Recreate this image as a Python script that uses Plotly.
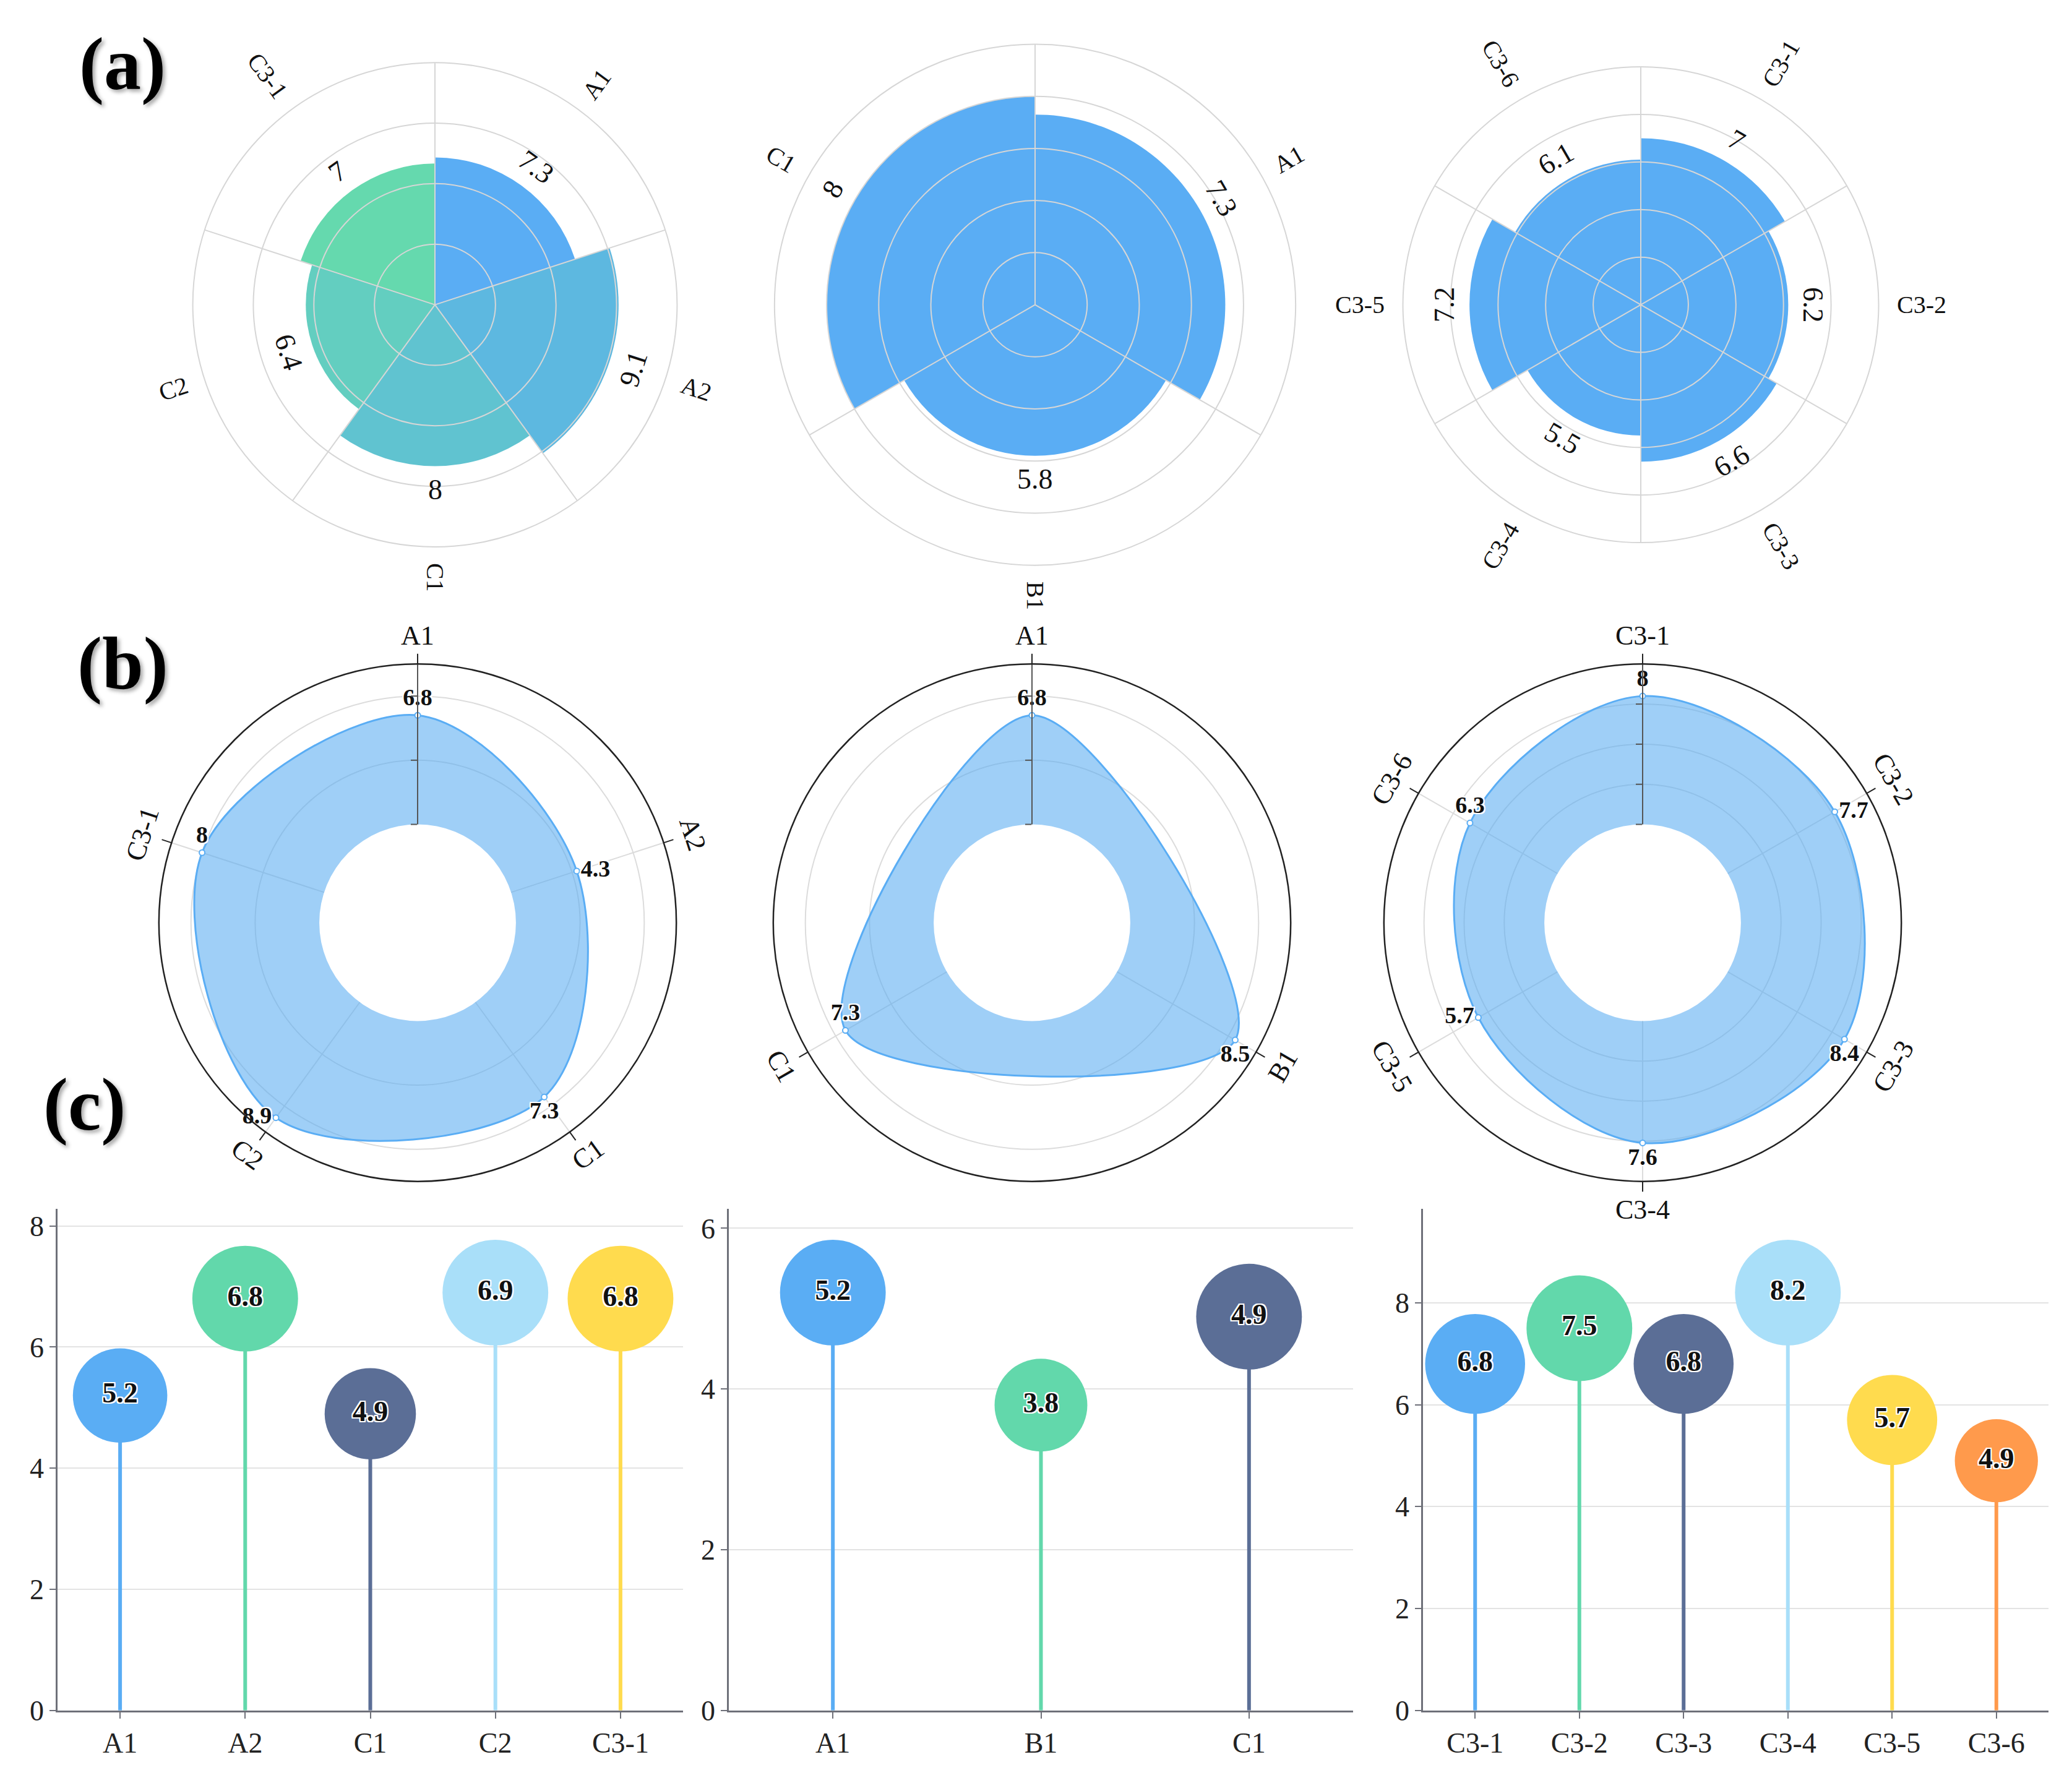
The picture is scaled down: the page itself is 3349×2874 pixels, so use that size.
import math
import plotly.graph_objects as go

W, H = 3349, 2874
FONT = "Liberation Serif, Times New Roman, DejaVu Serif, serif"

# ---------------- data ----------------
a1_cats = ["A1", "A2", "C1", "C2", "C3-1"]
a1_vals = [7.3, 9.1, 8, 6.4, 7]
a2_cats = ["A1", "B1", "C1"]
a2_vals = [7.3, 5.8, 8]
a3_cats = ["C3-1", "C3-2", "C3-3", "C3-4", "C3-5", "C3-6"]
a3_vals = [7, 6.2, 6.6, 5.5, 7.2, 6.1]

b1_cats = ["A1", "A2", "C1", "C2", "C3-1"]
b1_vals = [6.8, 4.3, 7.3, 8.9, 8]
b2_cats = ["A1", "B1", "C1"]
b2_vals = [6.8, 8.5, 7.3]
b3_cats = ["C3-1", "C3-2", "C3-3", "C3-4", "C3-5", "C3-6"]
b3_vals = [8, 7.7, 8.4, 7.6, 5.7, 6.3]

c1_cats = ["A1", "A2", "C1", "C2", "C3-1"]
c1_vals = [5.2, 6.8, 4.9, 6.9, 6.8]
c2_cats = ["A1", "B1", "C1"]
c2_vals = [5.2, 3.8, 4.9]
c3_cats = ["C3-1", "C3-2", "C3-3", "C3-4", "C3-5", "C3-6"]
c3_vals = [6.8, 7.5, 6.8, 8.2, 5.7, 4.9]

# ---------------- styles ----------------
BLUE = "#5AADF4"
a1_colors = ["#5AADF4", "#5DB8E0", "#60C3D0", "#63CEC0", "#65D9AE"]
lolli_colors = ["#5AADF4", "#62D8AB", "#5B6E96", "#A9DFF9", "#FFDB4E", "#FF9A4C"]
GRID_A = "#D6D6D6"
GRID_B = "#DCDCDC"
AXC = "#6E7079"
HALO = ("2px 2px 0 #fff, -2px -2px 0 #fff, 2px -2px 0 #fff, -2px 2px 0 #fff, "
        "0 2px 0 #fff, 2px 0 0 #fff, 0 -2px 0 #fff, -2px 0 0 #fff")

fig = go.Figure()
annotations = []
layout = {}


def fmt(v):
    return f"{v:g}"


def norm_angle(a):
    a = a % 360
    if a > 180:
        a -= 360
    if a > 90:
        a -= 180
    elif a < -90:
        a += 180
    return a


def to_paper(cx, cy, r, th):
    t = math.radians(th)
    px = cx + r * math.sin(t)
    py = cy - r * math.cos(t)
    return px / W, 1 - py / H


def text_w(s, fs):
    w = 0.0
    for ch in s:
        if ch.isupper():
            w += 0.67
        elif ch.isdigit():
            w += 0.5
        elif ch == "-":
            w += 0.33
        elif ch == ".":
            w += 0.25
        else:
            w += 0.5
    return w * fs


def polar_domain(cx, cy, R):
    return dict(x=[(cx - R) / W, (cx + R) / W], y=[1 - (cy + R) / H, 1 - (cy - R) / H])


def add_ann(x, y, text, size, angle=0, bold=False):
    annotations.append(dict(
        x=x, y=y, xref="paper", yref="paper", showarrow=False,
        text=f"<b>{text}</b>" if bold else text, textangle=angle,
        xanchor="center", yanchor="middle",
        font=dict(family=FONT, size=size, color="#111")))


def dummy(subplot):
    return go.Scatterpolar(r=[0], theta=[0], mode="markers", marker=dict(size=1, opacity=0),
                           subplot=subplot, hoverinfo="skip", showlegend=False)


# ---------------- row (a): polar bars ----------------
rowa = [
    dict(cats=a1_cats, vals=a1_vals, colors=a1_colors, rmax=12, grid=[3, 6, 9],
         cx=695, cy=489, R=395, base="polar", gid="polar2"),
    dict(cats=a2_cats, vals=a2_vals, colors=[BLUE] * len(a2_vals), rmax=10, grid=[2, 4, 6, 8],
         cx=1665, cy=489, R=425, base="polar3", gid="polar4"),
    dict(cats=a3_cats, vals=a3_vals, colors=[BLUE] * len(a3_vals), rmax=10, grid=[2, 4, 6, 8],
         cx=2644, cy=489, R=388, base="polar5", gid="polar6"),
]
FS_AV = 46
FS_AC = 40
for p in rowa:
    n = len(p["cats"])
    step = 360 / n
    th = [(i + 0.5) * step for i in range(n)]
    fig.add_trace(go.Barpolar(r=p["vals"], theta=th, width=[step] * n,
                              marker=dict(color=p["colors"], line=dict(width=0)),
                              subplot=p["base"], hoverinfo="skip", showlegend=False))
    fig.add_trace(dummy(p["gid"]))
    dom = polar_domain(p["cx"], p["cy"], p["R"])
    layout[p["base"]] = dict(
        domain=dom, bgcolor="rgba(0,0,0,0)", bargap=0,
        angularaxis=dict(type="linear", rotation=90, direction="clockwise", showgrid=False,
                         showline=False, showticklabels=False, ticks=""),
        radialaxis=dict(range=[0, p["rmax"]], showgrid=False, showline=False,
                        showticklabels=False, ticks=""))
    layout[p["gid"]] = dict(
        domain=dom, bgcolor="rgba(0,0,0,0)",
        angularaxis=dict(type="linear", rotation=90, direction="clockwise",
                         tickvals=[i * step for i in range(n)], showgrid=True,
                         gridcolor=GRID_A, gridwidth=2, showline=True, linecolor=GRID_A,
                         linewidth=2, showticklabels=False, ticks=""),
        radialaxis=dict(range=[0, p["rmax"]], tickvals=p["grid"], showgrid=True,
                        gridcolor=GRID_A, gridwidth=2, showline=False,
                        showticklabels=False, ticks=""))
    for c, v, t in zip(p["cats"], p["vals"], th):
        rv = v / p["rmax"] * p["R"] + 38
        x, y = to_paper(p["cx"], p["cy"], rv, t)
        add_ann(x, y, fmt(v), FS_AV, norm_angle(t))
        rc = p["R"] + 26 + text_w(c, FS_AC) / 2
        x, y = to_paper(p["cx"], p["cy"], rc, t)
        add_ann(x, y, c, FS_AC, norm_angle(t - 90))

# ---------------- row (b): smooth radar ----------------
rowb = [
    dict(cats=b1_cats, vals=b1_vals, ticks=[0, 4, 8], cx=667, cy=1497, pid="polar7",
         oid="polar10",
         pos=["top center", "middle right", "bottom center", "middle left", "top center"]),
    dict(cats=b2_cats, vals=b2_vals, ticks=[0, 4, 8], cx=1660, cy=1497, pid="polar8",
         oid="polar11", pos=["top center", "bottom center", "top center"]),
    dict(cats=b3_cats, vals=b3_vals, ticks=[0, 2.5, 5, 7.5], cx=2647, cy=1497, pid="polar9",
         oid="polar12",
         pos=["top center", "middle right", "bottom center", "bottom center", "middle left",
              "top center"]),
]
RB = 422
for p in rowb:
    n = len(p["cats"])
    step = 360 / n
    th = [i * step for i in range(n)]
    fig.add_trace(go.Scatterpolar(
        r=p["vals"] + [p["vals"][0]], theta=th + [th[0]], mode="lines", fill="toself",
        fillcolor="rgba(90,172,242,0.58)",
        line=dict(color=BLUE, width=3, shape="spline", smoothing=1),
        subplot=p["pid"], hoverinfo="skip", showlegend=False))
    fig.add_trace(go.Scatterpolar(
        r=p["vals"], theta=th, mode="markers+text", text=[fmt(v) for v in p["vals"]],
        textposition=p["pos"],
        textfont=dict(family=FONT, size=38, color="#111", weight="bold", shadow=HALO),
        marker=dict(size=9, color="white", line=dict(color=BLUE, width=2)),
        cliponaxis=False, subplot=p["pid"], hoverinfo="skip", showlegend=False))
    fig.add_trace(dummy(p["oid"]))
    dom = polar_domain(p["cx"], p["cy"], RB)
    layout[p["pid"]] = dict(
        domain=dom, hole=0.38, bgcolor="rgba(0,0,0,0)",
        angularaxis=dict(type="linear", rotation=90, direction="clockwise", tickvals=th,
                         showticklabels=False, ticks="outside", ticklen=16, tickwidth=2,
                         tickcolor="#222", showline=False,
                         showgrid=True, gridcolor=GRID_B, gridwidth=2),
        radialaxis=dict(range=[0, 10], angle=90, tickvals=p["ticks"], showticklabels=False,
                        ticks="inside", ticklen=10, tickwidth=2, tickcolor="#555",
                        showline=True, linecolor="#555", linewidth=2, showgrid=True,
                        gridcolor=GRID_B, gridwidth=2))
    layout[p["oid"]] = dict(
        domain=dom, bgcolor="rgba(0,0,0,0)",
        angularaxis=dict(type="linear", rotation=90, direction="clockwise",
                         showticklabels=False, ticks="", showline=True, linecolor="#222",
                         linewidth=2.5, showgrid=False),
        radialaxis=dict(range=[0, 10], visible=False, showgrid=False, showline=False,
                        showticklabels=False, ticks=""))
    for c, t in zip(p["cats"], th):
        x, y = to_paper(p["cx"], p["cy"], RB + 46, t)
        add_ann(x, y, c, 44, norm_angle(t))

# ---------------- row (c): lollipops ----------------
ydom = [1 - 2782 / H, 1 - 1964 / H]
rowc = [
    dict(cats=c1_cats, vals=c1_vals, x0=85, x1=1096, n=""),
    dict(cats=c2_cats, vals=c2_vals, x0=1170, x1=2179, n="2"),
    dict(cats=c3_cats, vals=c3_vals, x0=2292, x1=3303, n="3"),
]
for p in rowc:
    xa, ya = "x" + p["n"], "y" + p["n"]
    vmax = max(p["vals"])
    cols = lolli_colors[:len(p["cats"])]
    for c, v, col in zip(p["cats"], p["vals"], cols):
        fig.add_trace(go.Scatter(x=[c, c], y=[0, v], mode="lines",
                                 line=dict(color=col, width=6), xaxis=xa, yaxis=ya,
                                 hoverinfo="skip", showlegend=False))
    sizes = [min(80, 30 + 55 * v / vmax) * 2.136 for v in p["vals"]]
    fig.add_trace(go.Scatter(
        x=p["cats"], y=p["vals"], mode="markers+text", text=[fmt(v) for v in p["vals"]],
        textposition="middle center",
        textfont=dict(family=FONT, size=46, color="#111", weight="bold", shadow=HALO),
        marker=dict(size=sizes, color=cols, line=dict(width=0), opacity=1),
        xaxis=xa, yaxis=ya, cliponaxis=False, hoverinfo="skip", showlegend=False))
    layout["xaxis" + p["n"]] = dict(
        domain=[p["x0"] / W, p["x1"] / W], anchor=ya, type="category",
        range=[-0.5, len(p["cats"]) - 0.5], showline=True, linecolor=AXC, linewidth=2.5,
        ticks="outside", ticklen=10, tickwidth=2, tickcolor=AXC, showgrid=False,
        zeroline=False, tickfont=dict(family=FONT, size=46, color="#222"))
    layout["yaxis" + p["n"]] = dict(
        domain=ydom, anchor=xa, range=[0, vmax * 1.2], tick0=0, dtick=2, showline=True,
        linecolor=AXC, linewidth=2.5, ticks="outside", ticklen=10, tickwidth=2,
        tickcolor=AXC, showgrid=True, gridcolor="#E3E3E3", gridwidth=2, zeroline=False,
        tickfont=dict(family=FONT, size=46, color="#222"))

# ---------------- panel labels ----------------
for txt, px, py in [("(a)", 190, 96), ("(b)", 190, 1074), ("(c)", 128, 1794)]:
    annotations.append(dict(
        x=px / W, y=1 - py / H, xref="paper", yref="paper", showarrow=False,
        text=f"<b>{txt}</b>", xanchor="center", yanchor="middle",
        font=dict(family=FONT, size=120, color="#000",
                  shadow="4px 4px 6px rgba(0,0,0,0.35)")))

fig.update_layout(
    width=W, height=H, margin=dict(l=0, r=0, t=0, b=0, pad=0),
    paper_bgcolor="white", plot_bgcolor="white",
    font=dict(family=FONT, color="#111"),
    annotations=annotations, showlegend=False, **layout)

fig.write_html("out.html")
